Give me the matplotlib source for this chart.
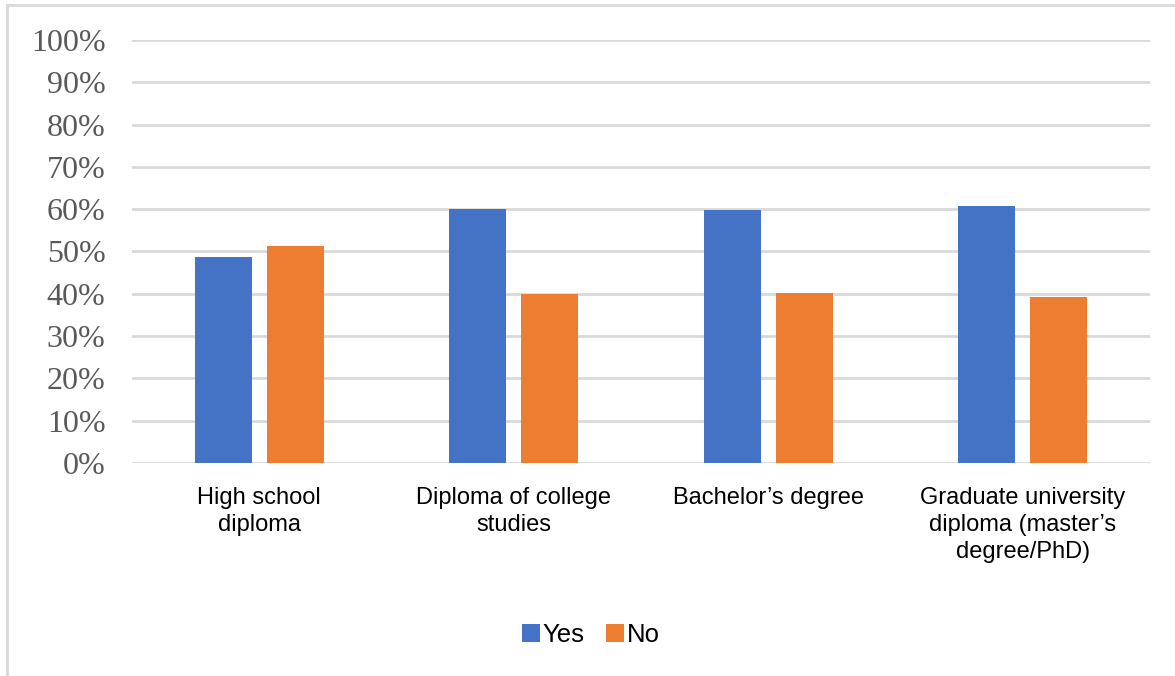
import matplotlib
matplotlib.use("Agg")
import matplotlib.pyplot as plt
import numpy as np
from matplotlib.lines import Line2D
from matplotlib.ticker import FuncFormatter

categories = [
    "High school\ndiploma",
    "Diploma of college\nstudies",
    "Bachelor\u2019s degree",
    "Graduate university\ndiploma (master\u2019s\ndegree/PhD)",
]
yes_values = [48.7, 60.0, 59.8, 60.8]
no_values = [51.3, 40.0, 40.2, 39.2]
series_names = ["Yes", "No"]
y_ticks = list(range(0, 101, 10))

W, H = 1175, 676
fig = plt.figure(figsize=(W / 100, H / 100), dpi=100)
fig.patch.set_facecolor("white")

ax = fig.add_axes([132 / W, 1 - 463 / H, (1150 - 132) / W, (463 - 40) / H])

x = np.arange(len(categories))
bar_w = 0.224
offset = 0.141
blue = "#4472C4"
orange = "#ED7D31"
ax.bar(x - offset, yes_values, width=bar_w, color=blue, label=series_names[0], zorder=3)
ax.bar(x + offset, no_values, width=bar_w, color=orange, label=series_names[1], zorder=3)

ax.set_xlim(-0.5, len(categories) - 0.5)
ax.set_ylim(0, 100)
ax.set_yticks(y_ticks)
ax.yaxis.set_major_formatter(FuncFormatter(lambda v, p: f"{int(v)}%"))
ax.grid(axis="y", color="#d9d9d9", linewidth=2, zorder=0)
ax.set_axisbelow(True)
for s in ax.spines.values():
    s.set_visible(False)

ax.tick_params(axis="y", length=0, pad=19, labelsize=23, labelcolor="#595959")
for lab in ax.get_yticklabels():
    lab.set_family("Liberation Serif")

ax.set_xticks(x)
ax.set_xticklabels(categories, fontsize=17, family="Liberation Sans",
                   color="black", linespacing=1.32, va="top")
ax.tick_params(axis="x", length=0, pad=17)

leg = fig.legend(
    loc="center", bbox_to_anchor=(591 / W, 1 - 635 / H), ncol=2, frameon=False,
    prop={"family": "Liberation Sans", "size": 18.5},
    handlelength=0.7, handleheight=0.7, handletextpad=0.1, columnspacing=0.85,
)

# Chart-area border (left and top edges)
border_c = "#d9d9d9"
fig.add_artist(Line2D([7 / W, 1.0], [1 - 5 / H, 1 - 5 / H], color=border_c,
                      linewidth=2, transform=fig.transFigure))
fig.add_artist(Line2D([7 / W, 7 / W], [0.0, 1 - 5 / H], color=border_c,
                      linewidth=2, transform=fig.transFigure))

fig.savefig("out.png", dpi=100, facecolor="white")
